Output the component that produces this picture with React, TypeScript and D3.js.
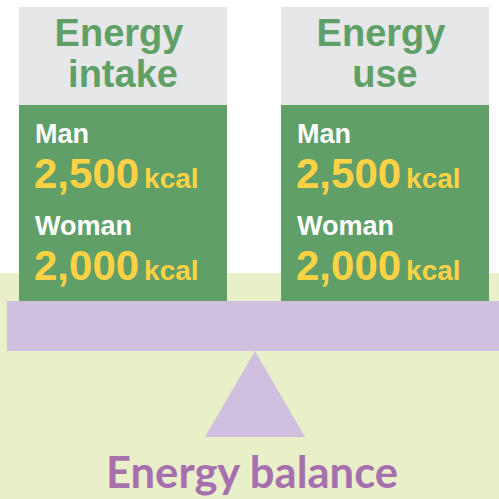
import * as d3 from 'd3';
import * as React from 'react';

const width = 499;
const height = 499;

// data
const columnTitles = [
  ['Energy', 'intake'],
  ['Energy', 'use'],
];
const people = ['Man', 'Woman'];
const kcalValues = [2500, 2000];
const unit = 'kcal';
const footerLabel = 'Energy balance';

const colors = {
  header: '#e6e7e9',
  headerText: '#5fa066',
  box: '#60a068',
  number: '#fdd244',
  ground: '#e9f0c9',
  beam: '#cfc0e0',
  footer: '#a66fad',
};

const sans = 'Liberation Sans';
const fmt = d3.format(',');

export default function App() {
  const x = d3
    .scaleBand<number>()
    .domain(d3.range(columnTitles.length))
    .range([19, 489])
    .paddingInner(54 / 262);

  const headerTop = 7;
  const boxTop = 105;
  const beamTop = 301;
  const beamBottom = 351;
  const groundTop = 273;

  // row baselines for the two people
  const rowY = d3.scalePoint<string>().domain(people).range([143, 235]);

  const triangle = d3.line()([
    [255, beamBottom],
    [305, 437],
    [205, 437],
  ]) + 'Z';

  return (
    <div style={{ position: 'absolute', left: 0, top: 0 }}>
      <svg width={width} height={height} style={{ display: 'block' }}>
        <rect width={width} height={height} fill="#fff" />
        <rect x={0} y={groundTop} width={width} height={height - groundTop} fill={colors.ground} />

        {columnTitles.map((lines, i) => {
          const x0 = x(i) as number;
          const bw = x.bandwidth();
          const cx = x0 + bw / 2;
          return (
            <g key={i}>
              <rect x={x0} y={headerTop} width={bw} height={boxTop - headerTop} fill={colors.header} />
              <rect x={x0} y={boxTop} width={bw} height={beamTop - boxTop} fill={colors.box} />
              {lines.map((t, j) => (
                <text
                  key={j}
                  x={cx}
                  dx={j === 0 ? -4 : 0}
                  y={46 + j * 41}
                  textAnchor="middle"
                  style={{ fontFamily: sans, fontWeight: 700, fontSize: 38 }}
                  fill={colors.headerText}
                >
                  {t}
                </text>
              ))}
              {people.map((p, k) => {
                const y = rowY(p) as number;
                return (
                  <g key={p}>
                    <text x={x0 + 16} y={y} style={{ fontFamily: sans, fontWeight: 700, fontSize: 27 }} fill="#fff">
                      {p}
                    </text>
                    <text
                      x={x0 + 15}
                      y={y + 45}
                      style={{ fontFamily: sans, fontWeight: 700, fontSize: 42 }}
                      fill={colors.number}
                    >
                      {fmt(kcalValues[k])}
                      <tspan dx={5} style={{ fontSize: 28 }}>
                        {unit}
                      </tspan>
                    </text>
                  </g>
                );
              })}
            </g>
          );
        })}

        <rect x={7} y={beamTop} width={width - 7} height={beamBottom - beamTop} fill={colors.beam} />
        <path d={triangle} fill={colors.beam} />

        <text
          x={252}
          y={488}
          textAnchor="middle"
          style={{ fontFamily: 'Lato', fontWeight: 700, fontSize: 43 }}
          fill={colors.footer}
          textLength={292}
          lengthAdjust="spacingAndGlyphs"
        >
          {footerLabel}
        </text>
      </svg>
    </div>
  );
}
